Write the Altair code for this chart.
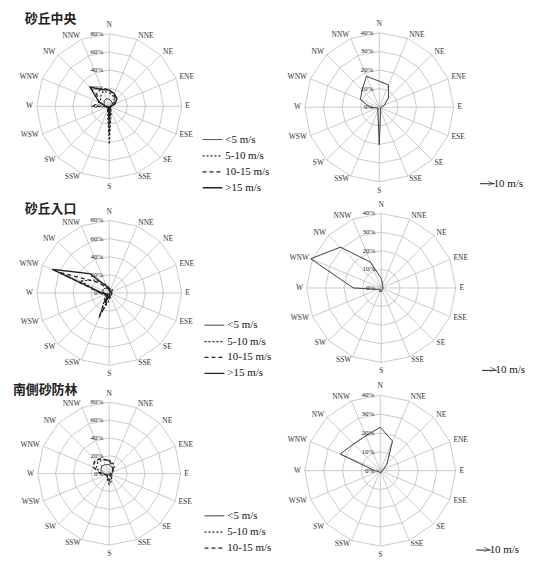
import altair as alt
import pandas as pd

DIRS = ["N", "NNE", "NE", "ENE", "E", "ESE", "SE", "SSE",
        "S", "SSW", "SW", "WSW", "W", "WNW", "NW", "NNW"]

# 砂丘中央: frequency (%) by wind direction and speed class
dune_centre_lt5 = [8, 6, 5, 3, 2, 2, 2, 3, 10, 4, 3, 3, 5, 6, 8, 9]
dune_centre_5_10 = [15, 12, 8, 3, 2, 2, 2, 6, 42, 5, 2, 2, 6, 10, 14, 18]
dune_centre_10_15 = [18, 14, 10, 6, 1, 1, 1, 4, 30, 3, 1, 1, 18, 12, 20, 22]
dune_centre_gt15 = [18, 15, 12, 7, 2, 1, 1, 2, 20, 2, 1, 1, 4, 12, 30, 20]
dune_centre_gt10 = [14, 13, 7, 3, 1, 1, 1, 2, 20, 2, 1, 1, 5, 11, 13, 18]

# 砂丘入口
dune_entry_lt5 = [5, 4, 4, 3, 3, 3, 3, 4, 6, 8, 5, 4, 6, 8, 7, 6]
dune_entry_5_10 = [6, 4, 5, 3, 3, 3, 3, 4, 8, 26, 6, 5, 10, 35, 20, 10]
dune_entry_10_15 = [4, 2, 2, 2, 1, 1, 1, 2, 5, 30, 4, 4, 10, 60, 16, 6]
dune_entry_gt15 = [3, 2, 2, 2, 1, 1, 1, 1, 3, 12, 2, 3, 8, 68, 30, 8]
dune_entry_gt10 = [5, 2, 1, 1, 1, 1, 1, 1, 2, 2, 1, 2, 15, 41, 31, 15]

# 南側砂防林
forest_lt5 = [10, 8, 6, 4, 3, 3, 4, 6, 8, 5, 4, 4, 6, 10, 12, 11]
forest_5_10 = [15, 12, 8, 3, 2, 2, 3, 8, 12, 6, 3, 3, 8, 16, 18, 17]
forest_10_15 = [14, 10, 6, 2, 1, 1, 1, 4, 8, 3, 2, 3, 10, 20, 22, 18]
forest_gt10 = [23, 17, 5, 2, 1, 1, 1, 1, 1, 1, 1, 1, 3, 23, 20, 20]

SPEED4 = ["<5 m/s", "5-10 m/s", "10-15 m/s", ">15 m/s"]
SPEED3 = ["<5 m/s", "5-10 m/s", "10-15 m/s"]
SPEED_GT10 = [">10 m/s"]

DASHES = {"<5 m/s": [1, 0], "5-10 m/s": [2, 2], "10-15 m/s": [4, 3],
          ">15 m/s": [1, 0], ">10 m/s": [1, 0]}
WIDTHS = {"<5 m/s": 1.0, "5-10 m/s": 1.4, "10-15 m/s": 1.4,
          ">15 m/s": 2.4, ">10 m/s": 2.4}

GRID = "#bdbdbd"
INK = "#222222"
SERIF = "Liberation Serif"

XY = ("datum.v * sin(datum.i * PI / 8)", "datum.v * cos(datum.i * PI / 8)")


def rose(names, values, max_pct, cx, cy, R, w, h, legend_xy, sym_len,
         row_pad, title=None, title_xy=None):
    k = R / max_pct
    xs = alt.Scale(domain=[-cx / k, (w - cx) / k], nice=False, zero=False)
    ys = alt.Scale(domain=[-(h - cy) / k, cy / k], nice=False, zero=False)
    X = alt.X("x:Q", scale=xs, axis=None)
    Y = alt.Y("y:Q", scale=ys, axis=None)

    # concentric 16-sided grid rings
    ring_rows = [{"ring": j, "i": i, "v": max_pct * j / 4}
                 for j in range(1, 5) for i in range(17)]
    rings = alt.Chart(pd.DataFrame(ring_rows)).transform_calculate(
        x=XY[0], y=XY[1]
    ).mark_line(color=GRID, strokeWidth=0.8).encode(
        x=X, y=Y, order="i:Q", detail="ring:N")

    # spokes for the 16 directions
    spoke_rows = [{"i": i, "v": max_pct, "z": 0} for i in range(16)]
    spokes = alt.Chart(pd.DataFrame(spoke_rows)).transform_calculate(
        x=XY[0], y=XY[1]
    ).mark_rule(color=GRID, strokeWidth=0.8).encode(
        x=X, y=Y, x2="z:Q", y2="z:Q")

    # direction names around the rim: N/S centred, others pushed outward
    def dir_layer(idx, radius, align, dx):
        rows_ = [{"i": i, "v": max_pct * radius, "t": DIRS[i]} for i in idx]
        return alt.Chart(pd.DataFrame(rows_)).transform_calculate(
            x=XY[0], y=XY[1]
        ).mark_text(font=SERIF, fontSize=7.5, color="#333333", align=align,
                    baseline="middle", dx=dx).encode(x=X, y=Y, text="t:N")

    dirs_ns = dir_layer([0, 8], 1.12, "center", 0)
    dirs_e = dir_layer(range(1, 8), 1.05, "left", 0)
    dirs_w = dir_layer(range(9, 16), 1.05, "right", 0)

    # percentage labels along the north spoke
    lab_rows = [{"i": 0, "v": max_pct * j / 4, "t": f"{int(max_pct * j / 4)}%"}
                for j in range(5)]
    labs = alt.Chart(pd.DataFrame(lab_rows)).transform_calculate(
        x=XY[0], y=XY[1]
    ).mark_text(font=SERIF, fontSize=7, color="#222222", align="right",
                baseline="middle", dx=-6).encode(x=X, y=Y, text="t:N")

    # wind frequency polygons
    rows = []
    for name, vals in zip(names, values):
        for i in range(17):
            rows.append({"s": name, "i": i, "v": vals[i % 16]})
    leg = alt.Legend(orient="none", legendX=legend_xy[0], legendY=legend_xy[1],
                     title=None, symbolType="stroke",
                     symbolSize=sym_len * sym_len, symbolStrokeColor=INK,
                     labelFont=SERIF, labelFontSize=11, labelColor="#111111",
                     rowPadding=row_pad, padding=0, labelOffset=2)
    lines = alt.Chart(pd.DataFrame(rows)).transform_calculate(
        x=XY[0], y=XY[1]
    ).mark_line(color=INK).encode(
        x=X, y=Y, order="i:Q",
        strokeDash=alt.StrokeDash(
            "s:N", scale=alt.Scale(domain=names, range=[DASHES[n] for n in names]),
            legend=leg, sort=names),
        strokeWidth=alt.StrokeWidth(
            "s:N", scale=alt.Scale(domain=names, range=[WIDTHS[n] for n in names]),
            legend=leg, sort=names),
    )

    layers = [rings, spokes, dirs_ns, dirs_e, dirs_w, labs, lines]
    if title:
        ttl = alt.Chart(pd.DataFrame({"t": [title]})).mark_text(
            font="Noto Sans CJK JP", fontSize=13, fontWeight="bold",
            color="#222222", align="left", baseline="middle"
        ).encode(x=alt.value(title_xy[0]), y=alt.value(title_xy[1]), text="t:N")
        layers.append(ttl)
    return alt.layer(*layers).properties(width=w, height=h)


def indep(c):
    return c.resolve_scale(strokeDash="independent", strokeWidth="independent",
                           x="independent", y="independent").resolve_legend(
        strokeDash="independent", strokeWidth="independent")


p1 = rose(SPEED4, [dune_centre_lt5, dune_centre_5_10, dune_centre_10_15, dune_centre_gt15],
          80, 110, 105, 73, 270, 194, (203, 128), 20, -6, "砂丘中央", (25, 17))
p2 = rose(SPEED_GT10, [dune_centre_gt10], 40, 110, 106, 75, 284, 194, (219, 183), 15, 0)
p3 = rose(SPEED4, [dune_entry_lt5, dune_entry_5_10, dune_entry_10_15, dune_entry_gt15],
          80, 110, 99, 73, 270, 186, (205, 121), 20, -4, "砂丘入口", (25, 14))
p4 = rose(SPEED_GT10, [dune_entry_gt10], 40, 110, 94, 75, 284, 186, (219, 177), 15, 0)
p5 = rose(SPEED3, [forest_lt5, forest_5_10, forest_10_15],
          80, 110, 95, 72, 270, 186, (205, 127), 20, -3, "南側砂防林", (13, 11))
p6 = rose(SPEED_GT10, [forest_gt10], 40, 109, 92, 76, 284, 186, (213, 172), 15, 0)

row1 = indep(alt.hconcat(p1, p2, spacing=0))
row2 = indep(alt.hconcat(p3, p4, spacing=0))
row3 = indep(alt.hconcat(p5, p6, spacing=0))

chart = indep(alt.vconcat(row1, row2, row3, spacing=0)).properties(
    padding=0, background="white"
).configure_view(stroke=None)

chart.save("out.html", embed_options={"renderer": "svg", "actions": False})
